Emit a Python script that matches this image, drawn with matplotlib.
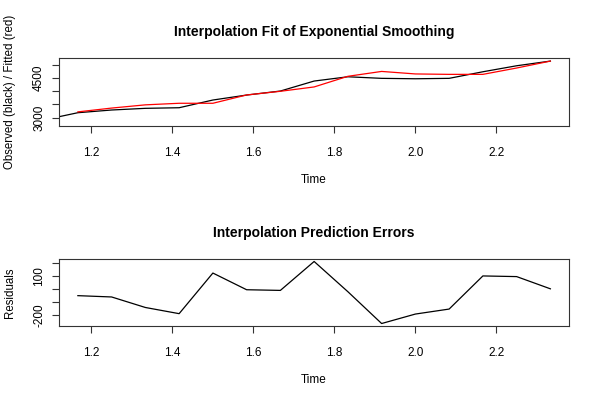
import numpy as np
import matplotlib
matplotlib.use("Agg")
import matplotlib.pyplot as plt

plt.rcParams['font.family'] = ['Liberation Sans', 'DejaVu Sans']

# monthly time index
t_obs = [1 + k / 12 for k in range(1, 17)]
observed = [2910, 3183, 3286, 3350, 3373, 3667, 3857, 4010, 4391,
            4554, 4494, 4478, 4494, 4745, 4974, 5153]
t_fit = t_obs[1:]
fitted = [3215, 3360, 3483, 3543, 3543, 3860, 4000, 4166, 4572,
          4758, 4662, 4646, 4646, 4888, 5152]
residuals = [-50, -60, -140, -187, 122, -5, -10, 210, -20,
             -262, -190, -152, 100, 95, 2]

x_ticks = [1.2, 1.4, 1.6, 1.8, 2.0, 2.2]
top_ticks = [3000, 3500, 4000, 4500, 5000]
top_labels = ['3000', '', '', '4500', '']
res_ticks = [-200, -100, 0, 100, 200]
res_labels = ['-200', '', '', '100', '']


def r_style(ax):
    for s in ax.spines.values():
        s.set_linewidth(0.8)
        s.set_color('#333333')
    ax.tick_params(length=5, width=0.8, color='#333333', labelsize=8.5, pad=10)
    ax.tick_params(axis='y', pad=5)
    ax.set_xticks(x_ticks)
    ax.set_xticklabels(['%.1f' % v for v in x_ticks])


fig = plt.figure(figsize=(6, 4), dpi=100)

# top panel: observed vs fitted
ax1 = fig.add_axes([0.0983, 0.685, 0.8505, 0.169])
ax1.plot(t_obs, observed, color='black', lw=0.9)
ax1.plot(t_fit, fitted, color='red', lw=0.9)
rng = t_fit[-1] - t_fit[0]
ax1.set_xlim(t_fit[0] - 0.04 * rng, t_fit[-1] + 0.04 * rng)
ax1.set_ylim(2676, 5255)
ax1.set_yticks(top_ticks)
ax1.set_yticklabels(top_labels, rotation=90, va='center')
r_style(ax1)
ax1.set_title('Interpolation Fit of Exponential Smoothing', fontsize=10,
              fontweight='bold', pad=16)
ax1.set_xlabel('Time', fontsize=8.5, labelpad=11)
ax1.set_ylabel('Observed (black) / Fitted (red)', fontsize=8.3, labelpad=12)

# bottom panel: residuals
ax2 = fig.add_axes([0.0983, 0.185, 0.8505, 0.1675])
ax2.plot(t_fit, residuals, color='black', lw=0.9)
ax2.set_xlim(ax1.get_xlim())
lo, hi = min(residuals), max(residuals)
ax2.set_ylim(lo - 0.04 * (hi - lo), hi + 0.04 * (hi - lo))
ax2.set_yticks(res_ticks)
ax2.set_yticklabels(res_labels, rotation=90, va='center')
r_style(ax2)
ax2.set_title('Interpolation Prediction Errors', fontsize=10,
              fontweight='bold', pad=16)
ax2.set_xlabel('Time', fontsize=8.5, labelpad=11)
ax2.set_ylabel('Residuals', fontsize=8.3, labelpad=12)

fig.savefig('out.png', dpi=100)
